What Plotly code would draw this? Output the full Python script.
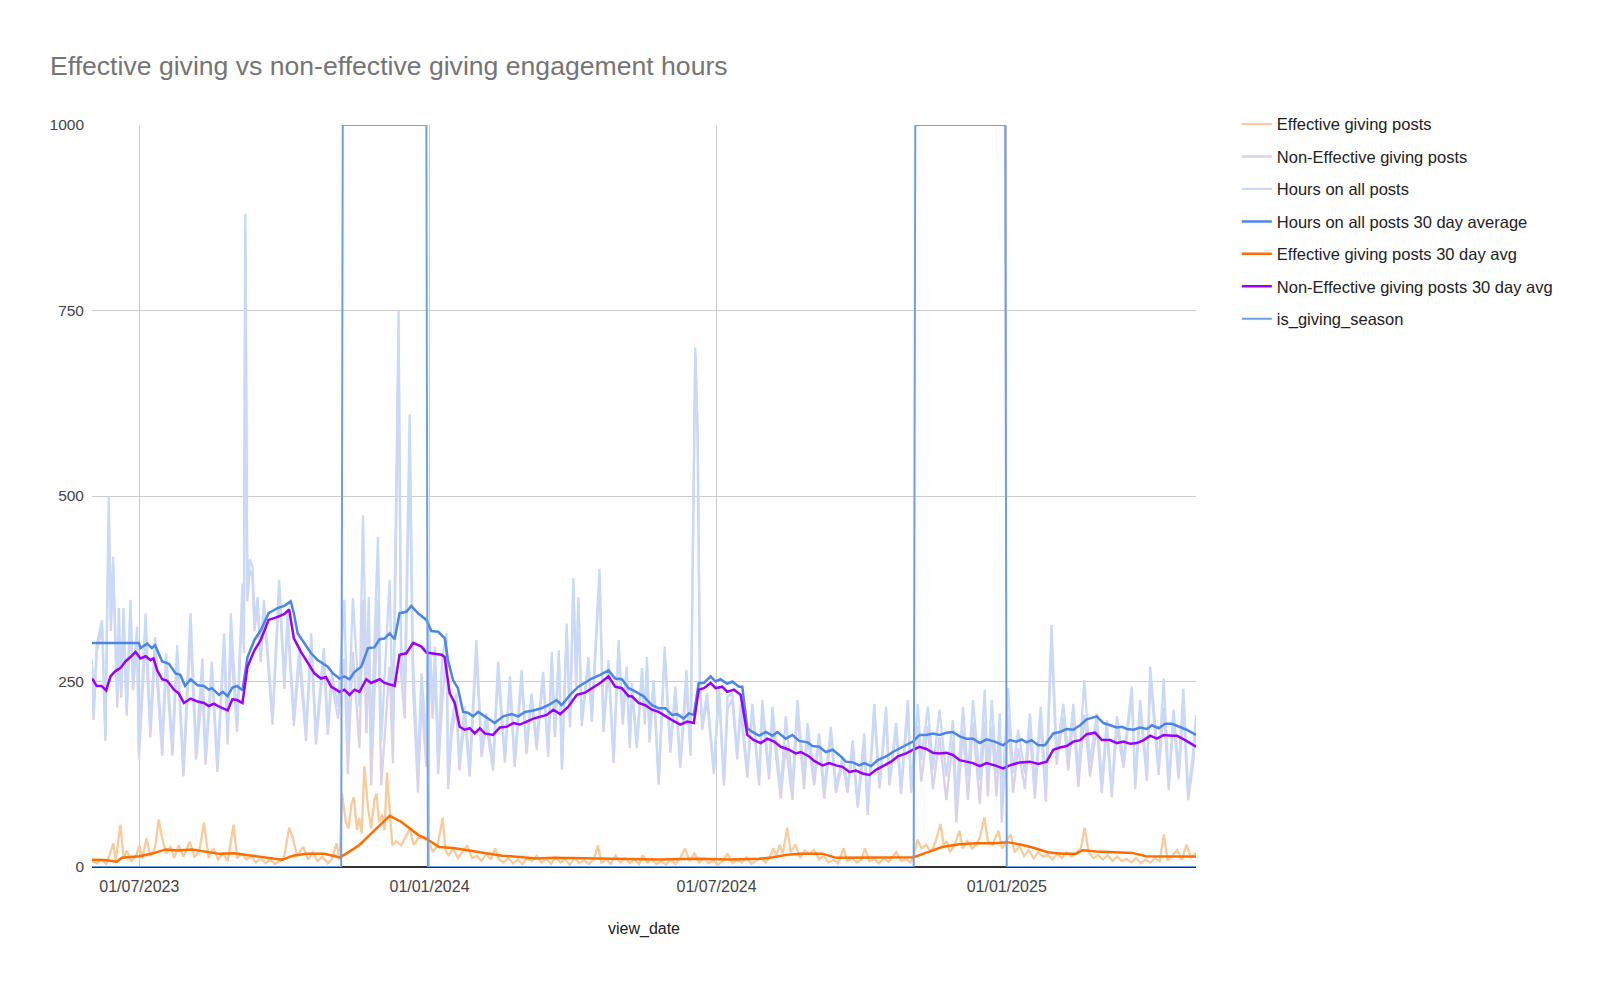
import pandas as pd
import plotly.graph_objects as go


START = pd.Timestamp("2023-06-01")

# (day offset from START, hours)
all_posts = [
    (0, 280), (1, 207), (3, 300), (6.4, 333), (8.5, 178), (10.6, 500), (12, 330), (13.4, 418), (16, 227), (17, 349),
    (18.5, 240), (20, 349), (22, 216), (24.4, 360), (26, 250), (28.6, 324), (29.7, 158), (34, 342), (37, 189), (40, 310),
    (44.5, 169), (47, 288), (51, 164), (54, 299), (58, 135), (62.5, 342), (66, 158), (70, 281), (72, 151), (76, 277),
    (79.5, 140), (83.8, 315), (86, 176), (88, 342), (92, 194), (95.4, 382), (96.3, 300), (97.2, 880), (98.5, 370), (100, 415),
    (101.8, 405), (103, 330), (105, 364), (107, 288), (109, 360), (114.5, 203), (118.7, 387), (122, 252), (124, 342), (128, 203),
    (131.5, 297), (135.7, 185), (139, 315), (142, 176), (147, 295), (149.5, 189), (152, 261), (156, 216), (160, 360), (162.2, 171),
    (165.4, 362), (169.6, 216), (171.8, 474), (174, 250), (175.5, 364), (177, 162), (181.3, 445), (183.4, 169), (188.7, 387), (190.8, 185),
    (194.4, 750), (196, 300), (198.3, 239), (201.4, 610), (203.5, 280), (206.7, 135), (208.9, 261), (212, 171), (213.5, 333), (216, 220),
    (217.5, 297), (219.5, 149), (222, 280), (224.8, 315), (225.8, 122), (228, 194), (231, 234), (233, 144), (236.3, 216), (239.5, 135),
    (243.7, 306), (247, 158), (250, 207), (254.3, 140), (257.5, 277), (261.8, 149), (265, 257), (268, 142), (272.4, 265), (275.5, 162),
    (278.7, 234), (282, 171), (286, 263), (289.3, 158), (291.5, 290), (293.5, 180), (296, 292), (298, 137), (301, 328), (303.1, 194),
    (305.2, 389), (307, 250), (308.4, 364), (310.5, 198), (314.8, 283), (316.9, 203), (321.8, 402), (324.3, 189), (327.5, 279), (330.7, 149),
    (333.9, 306), (336.5, 200), (339, 270), (341, 167), (342.3, 248), (345.5, 167), (348.7, 268), (350.5, 200), (351.9, 283), (353.5, 176),
    (356.1, 252), (359.3, 117), (363.1, 297), (366.7, 162), (369.9, 243), (373, 140), (376.9, 265), (379.5, 158), (382.5, 700), (384, 590),
    (385.5, 250), (386.9, 194), (390, 234), (394.3, 131), (397.5, 243), (400.7, 117), (403, 230), (406, 234), (409.1, 153), (411.3, 220),
    (415.5, 131), (418.7, 220), (423, 117), (425, 225), (429.3, 126), (431.4, 216), (436.7, 104), (439.9, 203), (444.1, 108), (447.3, 225),
    (451.5, 117), (453.7, 194), (457.9, 122), (461, 180), (464.3, 104), (468.5, 189), (471.7, 108), (475.9, 149), (479.1, 108), (482.3, 171),
    (485.5, 86), (489.7, 180), (491.8, 77), (496, 220), (499.3, 113), (503.5, 216), (505.6, 117), (509.9, 194), (513, 108), (517.3, 225),
    (519.4, 108), (523.6, 220), (525.8, 144), (530, 216), (533.2, 131), (537.4, 212), (541.7, 122), (545.9, 198), (548, 90), (552.3, 216),
    (555.4, 122), (558.6, 225), (562.9, 117), (566, 239), (568, 126), (570.5, 225), (573.5, 126), (575.6, 207), (576.8, 86), (580.9, 241),
    (584, 126), (587.2, 185), (591.5, 126), (594.7, 207), (597.8, 108), (601.5, 216), (604.8, 104), (608.4, 326), (611.6, 153), (615.9, 220),
    (619, 149), (622.2, 220), (625.4, 126), (629.2, 252), (632.8, 140), (637.1, 207), (640.3, 113), (643.4, 198), (646.6, 104), (649.8, 203),
    (654, 144), (659.3, 243), (661.5, 117), (664.6, 225), (668.9, 126), (671, 270), (676.3, 135), (679.5, 254), (682.7, 113), (685.8, 212),
    (689, 130), (692, 240), (695, 100), (698, 150), (700, 205),
]

non_eff_posts = [
    (0, 270), (1, 198), (3, 290), (6.4, 322), (8.5, 170), (10.6, 470), (12, 318), (13.4, 405), (16, 215), (17, 300),
    (18.5, 228), (20, 335), (22, 204), (24.4, 345), (26, 238), (28.6, 310), (29.7, 145), (34, 310), (37, 175), (40, 290),
    (44.5, 150), (47, 272), (51, 150), (54, 282), (58, 122), (62.5, 315), (66, 145), (70, 240), (72, 138), (76, 262),
    (79.5, 128), (83.8, 300), (86, 165), (88, 300), (92, 182), (95.4, 368), (96.3, 288), (97.2, 860), (98.5, 358), (100, 400),
    (101.8, 390), (103, 318), (105, 352), (107, 276), (109, 348), (114.5, 192), (118.7, 375), (122, 240), (124, 330), (128, 190),
    (131.5, 280), (135.7, 170), (139, 300), (142, 165), (147, 282), (149.5, 178), (152, 250), (156, 200), (160, 280), (162.2, 125),
    (165.4, 290), (169.6, 160), (171.8, 360), (174, 180), (175.5, 300), (177, 110), (181.3, 360), (183.4, 110), (188.7, 270), (190.8, 140),
    (194.4, 700), (196, 260), (198.3, 200), (201.4, 560), (203.5, 245), (206.7, 100), (208.9, 225), (212, 135), (213.5, 300), (216, 200),
    (217.5, 270), (219.5, 125), (222, 220), (224.8, 295), (225.8, 105), (228, 178), (231, 215), (233, 130), (236.3, 200), (239.5, 122),
    (243.7, 290), (247, 148), (250, 192), (254.3, 130), (257.5, 262), (261.8, 141), (265, 246), (268, 135), (272.4, 255), (275.5, 152),
    (278.7, 226), (282, 158), (286, 255), (289.3, 148), (291.5, 282), (293.5, 175), (296, 282), (298, 131), (301, 318), (303.1, 188),
    (305.2, 378), (307, 242), (308.4, 355), (310.5, 190), (314.8, 274), (316.9, 196), (321.8, 390), (324.3, 182), (327.5, 270), (330.7, 140),
    (333.9, 295), (336.5, 192), (339, 260), (341, 160), (342.3, 238), (345.5, 160), (348.7, 258), (350.5, 192), (351.9, 270), (353.5, 168),
    (356.1, 243), (359.3, 111), (363.1, 288), (366.7, 154), (369.9, 234), (373, 134), (376.9, 245), (379.5, 150), (382.5, 690), (384, 580),
    (385.5, 242), (386.9, 185), (390, 225), (394.3, 125), (397.5, 236), (400.7, 110), (403, 214), (406, 226), (409.1, 145), (411.3, 212),
    (415.5, 120), (418.7, 214), (423, 110), (425, 215), (429.3, 118), (431.4, 195), (436.7, 92), (439.9, 165), (444.1, 90), (447.3, 208),
    (451.5, 105), (453.7, 178), (457.9, 110), (461, 170), (464.3, 92), (468.5, 180), (471.7, 100), (475.9, 140), (479.1, 100), (482.3, 160),
    (485.5, 80), (489.7, 165), (491.8, 70), (496, 210), (499.3, 106), (503.5, 205), (505.6, 110), (509.9, 185), (513, 98), (517.3, 214),
    (519.4, 100), (523.6, 190), (525.8, 115), (530, 190), (533.2, 105), (537.4, 175), (541.7, 90), (545.9, 170), (548, 60), (552.3, 185),
    (555.4, 90), (558.6, 195), (562.9, 85), (566, 195), (568, 95), (570.5, 190), (573.5, 95), (575.6, 175), (576.8, 60), (580.9, 205),
    (584, 100), (587.2, 160), (591.5, 105), (594.7, 185), (597.8, 92), (601.5, 198), (604.8, 88), (608.4, 308), (611.6, 138), (615.9, 202),
    (619, 130), (622.2, 202), (625.4, 108), (629.2, 205), (632.8, 122), (637.1, 190), (640.3, 100), (643.4, 185), (646.6, 94), (649.8, 190),
    (654, 134), (659.3, 232), (661.5, 105), (664.6, 213), (668.9, 116), (671, 258), (676.3, 124), (679.5, 215), (682.7, 104), (685.8, 198),
    (689, 118), (692, 215), (695, 90), (698, 135), (700, 190),
]

eff_posts = [
    (0, 8), (3, 5), (6, 10), (9, 4), (11, 15), (13.5, 32), (15, 8), (18, 57), (20, 12), (22, 22),
    (25, 8), (28, 15), (30, 29), (32, 12), (34.5, 39), (37, 15), (40, 25), (42.3, 64), (44.5, 39), (47, 18),
    (50, 28), (52, 12), (55, 29), (58, 14), (62, 34), (65, 14), (68, 20), (71, 60), (74, 12), (77, 25),
    (80, 10), (83, 18), (86, 8), (89.8, 57), (92, 12), (95, 18), (98, 10), (101, 15), (104, 6), (107, 12),
    (110, 5), (113, 10), (116, 4), (119, 8), (122, 15), (125, 53), (127.4, 39), (130, 15), (134, 27), (137, 10),
    (140, 20), (143, 8), (146, 14), (149.5, 5), (152, 10), (155, 32), (157, 10), (158.5, 99), (161, 60), (162.7, 52),
    (164.5, 85), (166, 94), (168, 50), (169.4, 66), (171, 45), (172.7, 136), (175, 80), (177, 52), (179, 90), (180.4, 99),
    (182, 60), (184, 71), (185.5, 50), (187, 127), (189, 70), (190.4, 29), (193, 35), (196, 29), (198.5, 39), (201.5, 52),
    (204, 30), (207, 39), (210.2, 39), (213.6, 34), (216, 20), (219, 29), (222.4, 66), (224, 25), (226, 15), (229, 25),
    (232, 12), (235, 20), (238, 29), (241, 12), (244, 15), (247, 8), (250, 18), (253, 10), (255.6, 25), (258, 10),
    (261, 6), (264, 12), (267, 5), (270, 10), (273, 4), (276, 12), (279, 8), (282, 15), (285, 6), (288, 11),
    (291, 4), (294, 13), (297, 6), (300, 10), (303, 3), (306, 12), (309, 5), (312, 9), (315, 4), (318, 10),
    (320.8, 29), (323, 6), (326, 10), (329, 4), (332, 15), (335, 6), (338, 12), (341, 5), (344, 10), (347, 4),
    (349, 16), (352, 6), (355, 10), (358, 4), (361, 8), (364, 3), (367, 10), (370, 4), (373, 12), (376, 25),
    (379, 8), (382, 18), (385, 6), (388, 12), (391, 5), (394, 9), (397, 3), (400, 8), (403, 18), (406, 5),
    (409, 10), (412, 6), (415, 13), (418, 4), (421, 8), (424, 12), (427, 6), (430, 14), (432, 25), (434, 15),
    (436, 30), (438, 18), (440.8, 53), (443, 20), (446, 30), (449, 12), (452, 22), (455, 18), (458, 23), (461, 10),
    (464, 15), (467, 6), (470, 10), (473, 5), (476.5, 25), (479, 8), (482, 12), (485, 6), (488, 10), (490, 25),
    (493, 8), (496, 11), (499, 5), (502, 12), (505, 7), (508, 15), (510, 20), (513, 8), (516, 11), (519, 6),
    (521, 15), (523.4, 37), (526, 25), (529, 30), (532, 20), (535, 35), (538, 58), (540, 30), (542, 35), (544, 20),
    (547, 30), (550, 49), (552, 25), (555, 35), (558, 25), (561, 30), (563, 40), (565.8, 67), (568, 35), (571, 30),
    (574.7, 49), (577, 25), (580, 35), (582.5, 44), (585, 20), (588, 28), (591, 15), (594, 23), (597, 12), (600, 20),
    (603, 14), (606, 16), (609, 10), (612, 18), (615, 12), (618, 20), (621, 14), (624, 18), (627, 25), (629.4, 53),
    (632, 20), (635, 12), (638, 16), (641, 10), (644, 16), (647, 8), (650, 14), (653, 8), (656, 11), (659, 6),
    (662, 12), (665, 5), (668, 10), (671, 6), (674, 12), (677, 8), (679.6, 44), (682, 8.5), (685, 15), (688, 23),
    (691, 10), (694, 30), (697, 12), (700, 20),
]

all_avg = [
    (0, 302), (29.7, 302), (30.7, 295), (35, 301), (38, 295), (40, 299), (44.5, 277), (48.8, 274), (53, 261), (56, 259),
    (59, 244), (62.5, 253), (67, 245), (71, 244), (74, 239), (76, 241), (80.5, 232), (83, 236), (86, 230), (89, 242),
    (92, 244), (95.4, 238), (98.6, 283), (103, 306), (107, 319), (112, 342), (117.7, 349), (122, 352), (126, 358), (128, 342),
    (130.4, 315), (134.6, 301), (138.9, 288), (143, 279), (146.3, 274), (149.5, 270), (152.7, 261), (157, 254), (160, 257), (163.3, 253),
    (166.5, 263), (170.7, 270), (175, 295), (179, 296), (182.4, 307), (185.5, 308), (188.7, 315), (191.9, 307), (195, 342), (199.3, 344),
    (202.5, 352), (206.7, 342), (212, 333), (215.2, 318), (219.5, 317), (223.7, 308), (225.7, 279), (228.9, 252), (232, 241), (235.3, 209),
    (238.4, 208), (241.6, 203), (244.8, 209), (249, 203), (255.4, 194), (260.7, 203), (266, 206), (270.3, 203), (274.5, 209), (279.8, 211),
    (285, 214), (289.3, 218), (294.6, 225), (297.8, 218), (303.1, 232), (308.4, 243), (312.7, 248), (316.9, 254), (322.2, 259), (327.5, 265),
    (331.7, 254), (336, 253), (340.2, 241), (342.3, 239), (349.8, 230), (355, 218), (359.3, 214), (363.5, 214), (367.8, 205), (371, 206),
    (375.2, 200), (378.4, 207), (381.6, 205), (384.7, 248), (388, 248), (392.2, 257), (395.4, 250), (398.5, 253), (402.8, 247), (406, 250),
    (410.2, 243), (412.3, 243), (415.5, 187), (418.7, 182), (423, 177), (427.2, 182), (431.4, 177), (434.6, 182), (439.9, 173), (444.1, 178),
    (448.4, 170), (453.7, 168), (456.8, 163), (461, 162), (465.3, 155), (469.6, 158), (473.8, 151), (478, 142), (482.3, 141), (486.5, 137),
    (489.7, 140), (494, 136), (498.2, 144), (503.5, 149), (507.7, 155), (512, 160), (516.2, 164), (520.5, 169), (524.7, 178), (529, 178),
    (533.2, 180), (537.4, 178), (541.7, 181), (545.9, 182), (550.1, 176), (554.4, 173), (558.6, 173), (562.9, 167), (567.1, 172), (572.4, 169),
    (577.7, 164), (581.9, 171), (586.2, 169), (589.4, 172), (592.5, 168), (595.7, 171), (600, 164), (604.2, 164), (609.5, 180), (613.7, 182),
    (618, 186), (622.2, 185), (626.5, 191), (630.7, 199), (637.1, 203), (641.3, 194), (645.6, 191), (649.8, 188), (653, 189), (656.2, 186),
    (660.4, 185), (664.6, 188), (668.9, 186), (672.1, 191), (676.3, 187), (680.5, 193), (684.8, 193), (688, 190), (694, 185), (700, 178),
]

non_eff_avg = [
    (0, 254), (3, 244), (6, 244), (9, 238), (11.7, 257), (14.8, 264), (18, 268), (21.2, 277), (24.4, 283), (27.6, 290),
    (30.7, 281), (34, 284), (37, 279), (39, 281), (41.3, 265), (44.5, 253), (47.7, 251), (52, 239), (55, 234), (58.3, 221),
    (62.5, 227), (67, 223), (71, 221), (74, 217), (77.4, 220), (80.6, 216), (86, 211), (89, 226), (92, 225), (95.4, 221),
    (98.6, 270), (103, 292), (107, 306), (112, 333), (117.7, 337), (122, 341), (125, 347), (128, 308), (132.5, 290), (136.8, 275),
    (141, 261), (145.2, 254), (148.4, 256), (151.6, 243), (157, 236), (160, 239), (163.3, 232), (166.5, 239), (169.6, 236), (173.9, 253),
    (177, 248), (182.4, 253), (185.5, 248), (191.9, 244), (195, 286), (199.3, 288), (203.6, 302), (208.9, 297), (212, 289), (215.2, 288),
    (221.6, 286), (223.6, 283), (226.8, 234), (230, 221), (233.1, 189), (236.3, 185), (239.5, 187), (242.7, 180), (245.9, 187), (249, 180),
    (254.3, 178), (258.6, 188), (262.8, 189), (267.1, 194), (271.3, 192), (275.6, 196), (279.8, 200), (285, 203), (288.3, 205), (292.5, 212),
    (296.8, 206), (302, 216), (307.4, 232), (312.7, 235), (316.9, 241), (322.2, 248), (327.5, 257), (331.7, 243), (336, 241), (340.2, 230),
    (342.3, 230), (346.6, 221), (350.8, 218), (355, 212), (359.3, 209), (363.5, 203), (367.8, 198), (373, 192), (377.3, 196), (381.6, 194),
    (384.7, 239), (388, 241), (392.2, 248), (395.4, 241), (399.6, 243), (402.8, 236), (407, 239), (411.3, 232), (415.5, 178), (419.7, 171),
    (424, 167), (428.2, 173), (432.5, 169), (436.7, 162), (442, 158), (446.2, 153), (449.4, 155), (454.7, 149), (457.9, 143), (463.2, 137),
    (467.4, 140), (471.7, 137), (475.9, 135), (480.2, 128), (484.4, 130), (488.6, 126), (492.9, 124), (497.1, 131), (502.4, 137), (506.7, 142),
    (510.9, 149), (516.2, 153), (520.5, 158), (524.7, 162), (529, 159), (533.2, 154), (537.4, 153), (541.7, 154), (545.9, 151), (550.1, 144),
    (554.4, 142), (558.6, 140), (562.9, 136), (567.1, 140), (572.4, 137), (577.7, 133), (581.9, 137), (588.3, 141), (594.7, 142), (600, 139),
    (605.3, 142), (609.5, 158), (613.7, 161), (618, 163), (622.2, 169), (626.5, 171), (630.7, 179), (636, 181), (640.3, 171), (645.6, 171),
    (649.8, 167), (654.1, 169), (658.3, 166), (662.5, 167), (666.8, 171), (671, 177), (675.2, 173), (679.5, 178), (684.8, 177), (688, 177),
    (694, 170), (700, 162),
]

eff_avg = [
    (0, 9.8), (8, 9.3), (15.7, 7), (19, 12.6), (30, 14.4), (39, 18.6), (46.7, 23.7), (54.4, 22.3), (63.3, 23.7), (72, 21),
    (81, 17.7), (89.8, 18.6), (98.6, 16.3), (109.7, 13), (120.7, 9.8), (127.4, 15.3), (136, 17.7), (147.3, 17.7), (157.2, 13), (162.7, 20),
    (169.4, 29.3), (176, 43), (182.6, 57), (188.8, 69), (196, 61), (202.5, 50), (207, 43), (212.5, 37.7), (220, 27), (229, 25.6),
    (238, 22.3), (249, 19), (260, 15.3), (271, 13), (282, 11.6), (293, 12.6), (304, 12), (315, 12), (326.6, 11.6), (339.6, 10.7),
    (360, 10), (382.8, 11), (405, 10), (423, 11), (432, 13), (440.8, 16.5), (449.8, 18), (463, 18), (472, 12.3), (483, 12.3),
    (494, 12.7), (507.8, 13.2), (521, 13.2), (530, 20), (539, 27), (550, 30.7), (561, 32), (572.5, 32), (580, 33.5), (588, 30.7),
    (597, 26), (606, 20), (615, 18), (624, 18), (628, 22.6), (637, 21), (650.6, 20), (659.5, 19), (668.4, 14.6), (679.6, 14.6),
    (688, 14.6), (700, 14),
]

giving_season = [
    (0, 0), (158, 0), (159, 1000), (212, 1000), (213, 0),
    (521, 0), (522, 1000), (579, 1000), (580, 0), (700, 0),
]

series = [
    ("Effective giving posts", eff_posts, "#f9cb9c", 2.3),
    ("Non-Effective giving posts", non_eff_posts, "#d9d2e9", 2.3),
    ("Hours on all posts", all_posts, "#c9daf8", 2.3),
    ("Hours on all posts 30 day average", all_avg, "#4a86e8", 2.5),
    ("Effective giving posts 30 day avg", eff_avg, "#ff6d01", 2.5),
    ("Non-Effective giving posts 30 day avg", non_eff_avg, "#9900ff", 2.5),
    ("is_giving_season", giving_season, "#6d9eeb", 2),
]


def to_xy(points):
    days = [p[0] for p in points]
    vals = [p[1] for p in points]
    dates = START + pd.to_timedelta(days, unit="D")
    return dates, vals


fig = go.Figure()
for i, (name, pts, color, width) in enumerate(series):
    x, y = to_xy(pts)
    fig.add_trace(go.Scatter(x=x, y=y, mode="lines", name=name,
                             legendgroup=str(i),
                             line=dict(color=color, width=width)))

font = "Liberation Sans, Arial, sans-serif"
fig.update_layout(
    width=1600, height=989,
    paper_bgcolor="white", plot_bgcolor="white",
    margin=dict(l=84, r=412, t=117, b=130),
    font=dict(family=font, size=16, color="#222222"),
    title=dict(text="Effective giving vs non-effective giving engagement hours",
               x=42 / 1600, xanchor="left", y=1 - 58 / 989, yanchor="middle",
               font=dict(size=26.6, color="#757575")),
    legend=dict(x=1.037, xanchor="left", y=1.0245, yanchor="top",
                font=dict(size=16.5, color="#222222"), tracegroupgap=8,
                bgcolor="rgba(0,0,0,0)"),
    showlegend=True,
)
fig.update_xaxes(
    range=[START, START + pd.Timedelta(days=700)],
    tick0="2023-07-01", dtick="M6", tickformat="%d/%m/%Y",
    showgrid=True, gridcolor="#cccccc", gridwidth=1,
    showline=False, zeroline=False, ticks="",
    ticklabelstandoff=8,
    tickfont=dict(size=16, color="#444444"),
    title=dict(text="view_date", font=dict(size=16, color="#222222"), standoff=28),
)
fig.update_yaxes(
    range=[0, 1000], tickvals=[0, 250, 500, 750, 1000],
    showgrid=True, gridcolor="#cccccc", gridwidth=1,
    zeroline=True, zerolinecolor="#333333", zerolinewidth=1.5,
    showline=False, ticks="",
    ticklabelstandoff=7,
    tickfont=dict(size=15.5, color="#444444"),
)

fig.write_html("out.html")
